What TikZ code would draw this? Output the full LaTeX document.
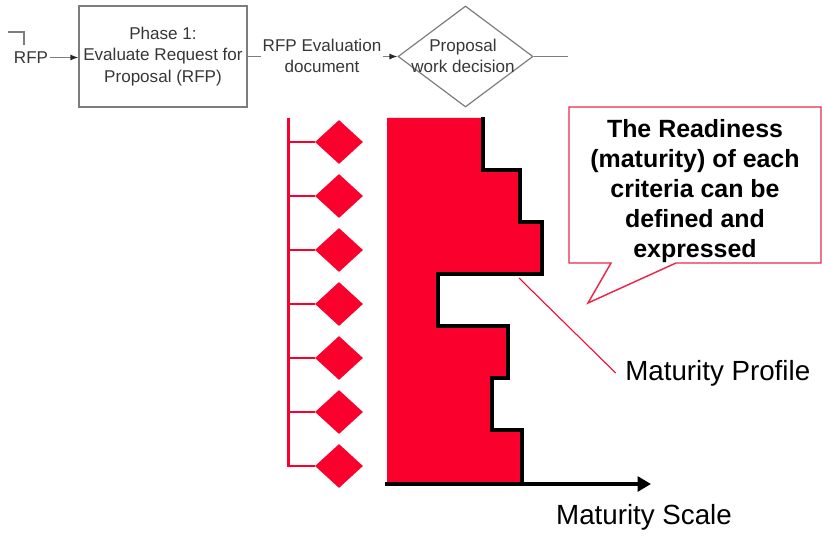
\documentclass[tikz,border=0pt]{standalone}
\usepackage{fontspec}
\setmainfont{Liberation Sans}
\usetikzlibrary{shapes.geometric,arrows.meta}
\definecolor{mred}{RGB}{250,0,45}
\definecolor{cred}{RGB}{235,40,75}
\definecolor{flowline}{RGB}{125,125,125}
\definecolor{flowtext}{RGB}{55,55,55}
\begin{document}
\begin{tikzpicture}[x=0.75pt,y=-0.75pt,
  flowtxt/.style={font=\fontsize{12.8}{16}\selectfont, text=flowtext, align=center, inner sep=1pt},
  flowbox/.style={draw=flowline, line width=0.9pt, minimum width=126pt, minimum height=75.75pt},
  flowdiam/.style={diamond, draw=flowline, line width=0.9pt, minimum width=101.25pt, minimum height=75.75pt, inner sep=0pt},
  flowarrow/.style={draw=flowline, line width=0.9pt, -{Latex[length=6pt,width=4.5pt,color=black!85]}},
  flowlink/.style={draw=flowline, line width=0.9pt},
  crit/.style={diamond, fill=mred, minimum width=36pt, minimum height=33pt, inner sep=0pt},
  spine/.style={draw=mred, line width=2.25pt},
  tickline/.style={draw=mred, line width=1.5pt},
  profile/.style={draw=black, line width=3pt, line join=miter},
  bigtxt/.style={font=\fontsize{20.8}{25}\selectfont, inner sep=0pt},
  calltxt/.style={font=\fontsize{18.7}{22.5}\selectfont\bfseries, align=center, inner sep=0pt}
]
\useasboundingbox (0,0) rectangle (823,538);

% ---- process flow along the top ----
\draw[flowlink] (8,32) -- (24,32) -- (24,45);
\node[flowtxt] (rfp) at (31,57.5) {RFP};
\node[flowbox, flowtxt] (phase) at (163,56.5) {Phase 1:\\Evaluate Request for\\Proposal (RFP)};
\node[flowtxt] (evaldoc) at (322,56) {RFP Evaluation\\document};
\node[flowdiam] (decision) at (465.5,56.5) {};
\node[flowtxt] (dectext) at (463,56) {Proposal\\work decision};
\coordinate (flowout) at (568,56.5);

\draw[flowarrow] (rfp.east) -- (phase.west |- rfp.east);
\draw[flowlink] (phase.east) -- (evaldoc.west |- phase.east);
\draw[flowarrow] (evaldoc.east |- decision.west) -- (decision.west);
\draw[flowlink] (decision.east) -- (flowout);

% ---- criteria list ----
\coordinate (spinetop) at (288,118);
\coordinate (spinebot) at (288,467);
\draw[spine] (spinetop) -- (spinebot);
\foreach \i/\yy in {1/142,2/196,3/250,4/304,5/358,6/412,7/466}{
  \node[crit] (c\i) at (339,\yy) {};
  \draw[tickline] (spinetop |- c\i) -- (c\i.west);
}

% ---- maturity bars and profile ----
\fill[mred] (387,118) -- (483,118) -- (483,170) -- (520,170) -- (520,222)
  -- (542,222) -- (542,274) -- (438,274) -- (438,326) -- (508,326)
  -- (508,378) -- (492,378) -- (492,430) -- (522,430) -- (522,483)
  -- (387,483) -- cycle;
\draw[profile] (483,117) -- (483,170) -- (520,170) -- (520,222)
  -- (542,222) -- (542,274) -- (438,274) -- (438,326) -- (508,326)
  -- (508,378) -- (492,378) -- (492,430) -- (522,430) -- (522,484);

% scale axis
\coordinate (axisorigin) at (385,484);
\coordinate (axisend) at (651,484);
\draw[line width=3pt, -{Triangle[length=10pt,width=11pt]}] (axisorigin) -- (axisend);
\node[bigtxt] (scale) at (644,517) {Maturity Scale};

% profile label
\coordinate (profpt) at (519,278);
\node[bigtxt, anchor=west] (proflabel) at (625,373) {Maturity Profile};
\draw[draw=mred, line width=0.8pt] (profpt) -- ([xshift=-7pt]proflabel.west);

% callout
\draw[draw=cred, line width=1.1pt, fill=white, line join=miter]
  (569,107) -- (821,107) -- (821,263) -- (676,263) -- (588,303)
  -- (611,263) -- (569,263) -- cycle;
\node[calltxt] (callout) at (695,191) {The Readiness\\(maturity) of each\\criteria can be\\defined and\\expressed};
\end{tikzpicture}
\end{document}
